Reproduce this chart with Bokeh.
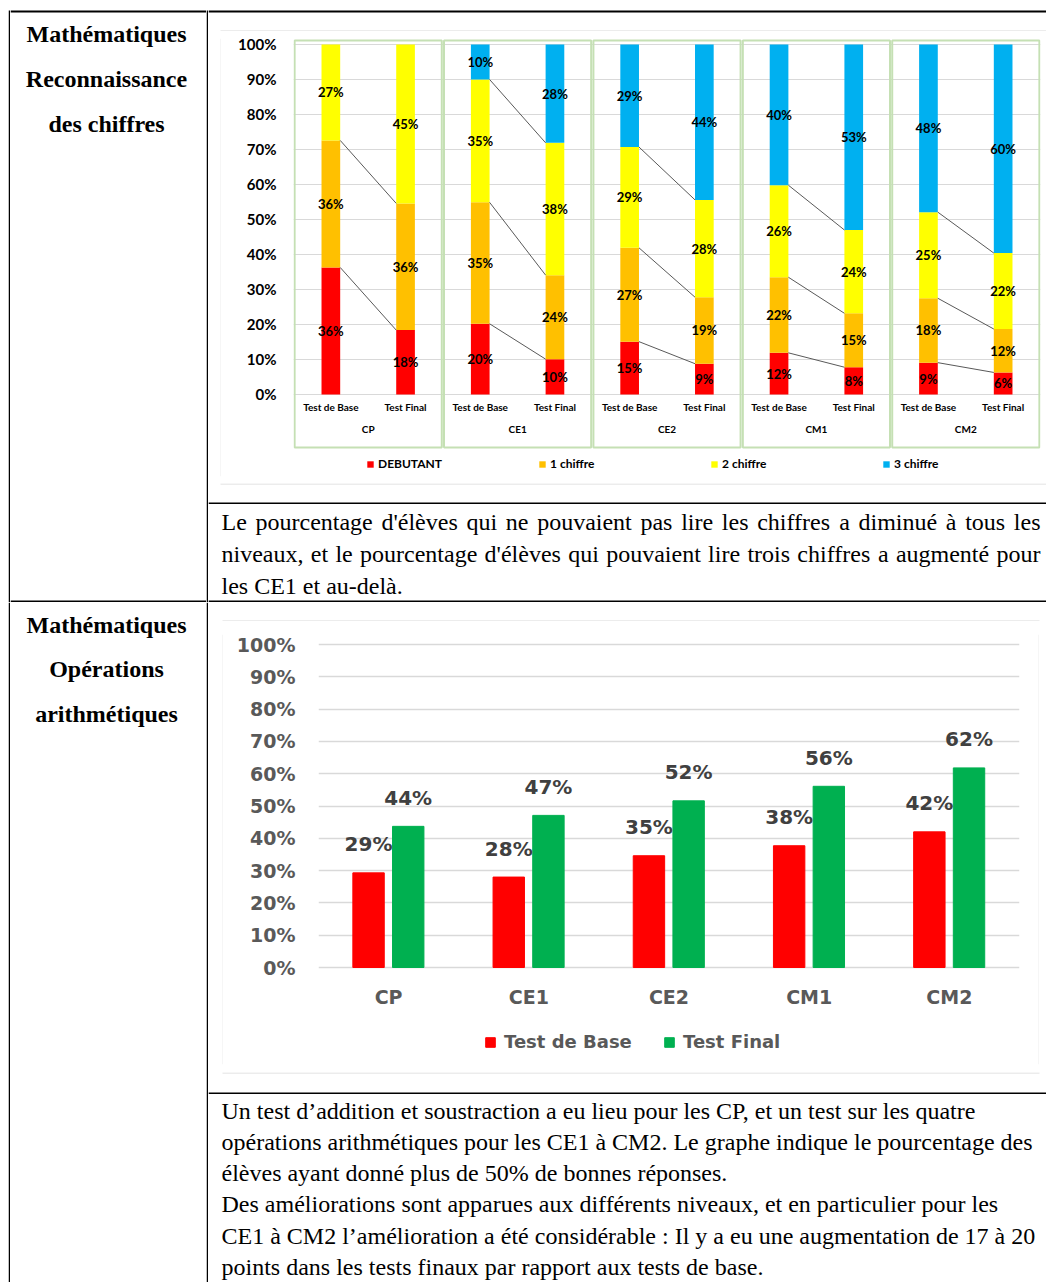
from bokeh.plotting import figure
from bokeh.models import (ColumnDataSource, FactorRange, Range1d, FixedTicker,
                          PrintfTickFormatter, Legend, LegendItem)
from bokeh.layouts import row, column
from bokeh.transform import dodge
from bokeh.core.properties import value
from bokeh.embed import file_html
from bokeh.resources import INLINE

# ---------------- data ----------------
levels = ["CP", "CE1", "CE2", "CM1", "CM2"]
tests = ["Test de Base", "Test Final"]

# chart 1 : Reconnaissance des chiffres (stacked %, base/final per level)
series1 = ["DEBUTANT", "1 chiffre", "2 chiffre", "3 chiffre"]
debutant = [36.3, 18.4, 20.2, 10.1, 15.1, 8.8, 11.9, 7.8, 9.1, 6.3]
un_chiffre = [36.3, 36.2, 34.7, 24.0, 26.8, 19.0, 21.6, 15.4, 18.4, 12.4]
deux_chiffre = [27.4, 45.4, 35.1, 37.8, 28.8, 27.8, 26.3, 23.8, 24.6, 21.7]
trois_chiffre = [0.0, 0.0, 10.0, 28.1, 29.3, 44.4, 40.2, 53.0, 47.9, 59.6]
colors1 = ["#FF0000", "#FFC000", "#FFFF00", "#00B0F0"]

# chart 2 : Opérations arithmétiques
series2 = ["Test de Base", "Test Final"]
base2 = [29.3, 28.0, 34.6, 37.7, 42.0]
final2 = [43.7, 47.1, 51.6, 56.1, 61.8]
colors2 = ["#FF0000", "#00B050"]

pct_ticks = [0, 10, 20, 30, 40, 50, 60, 70, 80, 90, 100]

title1 = ["Mathématiques", "Reconnaissance", "des chiffres"]
title2 = ["Mathématiques", "Opérations", "arithmétiques"]
text1 = [
    "Le pourcentage d'élèves qui ne pouvaient pas lire les chiffres a diminué à tous les",
    "niveaux, et le pourcentage d'élèves qui pouvaient lire trois chiffres a augmenté pour",
    "les CE1 et au-delà.",
]
text1_justified = [True, True, False]
text2 = [
    "Un test d’addition et soustraction a eu lieu pour les CP, et un test sur les quatre",
    "opérations arithmétiques pour les CE1 à CM2. Le graphe indique le pourcentage des",
    "élèves ayant donné plus de 50% de bonnes réponses.",
    "Des améliorations sont apparues aux différents niveaux, et en particulier pour les",
    "CE1 à CM2 l’amélioration a été considérable : Il y a eu une augmentation de 17 à 20",
    "points dans les tests finaux par rapport aux tests de base.",
]

SERIF = "Liberation Serif"
BLACK = "#000000"
GREY = "#D9D9D9"

# advance widths (1/1000 em) of Liberation Serif, used only to justify text lines
_TW = {" ": 250, ",": 250, ".": 250, "'": 180, "-": 333,
       "a": 444, "b": 500, "c": 444, "d": 500, "e": 444, "f": 333, "g": 500, "h": 500,
       "i": 278, "j": 278, "k": 500, "l": 278, "m": 778, "n": 500, "o": 500, "p": 500,
       "q": 500, "r": 333, "s": 389, "t": 278, "u": 500, "v": 500, "w": 722, "x": 500,
       "y": 500, "z": 444, "é": 444, "è": 444, "à": 444, "L": 611, "C": 667, "E": 611}


def text_width(s, size):
    return sum(_TW.get(ch, 500) for ch in s) * size / 1000.0


# ---------------- helpers ----------------
def blank(w, h, bars=(), color="#ffffff"):
    """Plain cell; 'bars' are border strips (left, right, top, bottom, colour) in px."""
    f = figure(width=w, height=h, min_border=0, toolbar_location=None,
               output_backend="svg", x_axis_type=None, y_axis_type=None,
               outline_line_color=None, background_fill_color=color,
               border_fill_color=color, x_range=Range1d(0, w),
               y_range=Range1d(h, 0))
    for (l, r, t, b, c) in bars:
        f.quad(left=[l], right=[r], top=[t], bottom=[b], fill_color=c, line_color=None)
    return f


def text_cell(w, h, lines, x, y0, dy, size_px, bold=False, align="left", bars=(),
              justify=None, x_end=None):
    f = blank(w, h, bars)
    xs, ys, ts = [], [], []
    for i, line in enumerate(lines):
        y = y0 + i * dy
        if justify is not None and justify[i]:
            words = line.split(" ")
            widths = [text_width(wd, size_px) for wd in words]
            gap = (x_end - x - sum(widths)) / (len(words) - 1)
            cx = x
            for wd, ww in zip(words, widths):
                xs.append(cx); ys.append(y); ts.append(wd)
                cx += ww + gap
        else:
            xs.append(x); ys.append(y); ts.append(line)
    f.text(x=xs, y=ys, text=ts, text_font=value(SERIF),
           text_font_size=f"{size_px}px", text_font_style="bold" if bold else "normal",
           text_align=align, text_baseline="alphabetic", text_color=BLACK)
    return f


# ---------------- chart 1 ----------------
x1 = [(g, t) for g in levels for t in tests]
keys1 = ["debutant", "un", "deux", "trois"]
src1 = ColumnDataSource(dict(x=x1, debutant=debutant, un=un_chiffre,
                             deux=deux_chiffre, trois=trois_chiffre))

p1 = figure(width=825, height=452,
            x_range=FactorRange(*x1, factor_padding=0, group_padding=0, range_padding=0),
            y_range=Range1d(-23.43, 101.71),
            output_backend="svg", toolbar_location=None,
            min_border_left=72, min_border_right=6, min_border_top=7, min_border_bottom=7,
            outline_line_color=None, background_fill_color="white", border_fill_color="white")

# group frames (green)
p1.rect(x=levels, y=[43.0] * len(levels), width=1.97, height=116.28,
        fill_color=None, line_color="#C5E0B4", line_width=2)

rs1 = p1.vbar_stack(keys1, x="x", width=0.25, fill_color=colors1, line_color=None,
                    source=src1)

# series lines between base and final
xb, xf, yb, yf = [], [], [], []
for gi, g in enumerate(levels):
    b, fn = 2 * gi, 2 * gi + 1
    cb = cf = 0.0
    for arr in (debutant, un_chiffre, deux_chiffre):
        cb += arr[b]
        cf += arr[fn]
        if cb < 99.5 and cf < 99.5:
            xb.append((g, tests[0])); xf.append((g, tests[1]))
            yb.append(cb); yf.append(cf)
p1.segment(x0=dodge("xb", 0.125, range=p1.x_range), y0="yb",
           x1=dodge("xf", -0.125, range=p1.x_range), y1="yf",
           source=ColumnDataSource(dict(xb=xb, xf=xf, yb=yb, yf=yf)),
           line_color="#595959", line_width=1)

# data labels
lx, ly, lt = [], [], []
for i, xx in enumerate(x1):
    cum = 0.0
    for arr in (debutant, un_chiffre, deux_chiffre, trois_chiffre):
        v = arr[i]
        if v > 0.5:
            lx.append(xx); ly.append(cum + v / 2); lt.append(f"{round(v)}%")
        cum += v
p1.text(x="x", y="y", text="t", source=ColumnDataSource(dict(x=lx, y=ly, t=lt)),
        text_font=value("Lato"), text_font_style="bold", text_font_size="13px",
        text_align="center", text_baseline="middle", text_color=BLACK)

p1.xgrid.visible = False
p1.ygrid.ticker = FixedTicker(ticks=pct_ticks)
p1.ygrid.grid_line_color = GREY
p1.yaxis.ticker = FixedTicker(ticks=pct_ticks)
p1.yaxis.formatter = PrintfTickFormatter(format="%d%%")
p1.yaxis.axis_line_color = None
p1.yaxis.major_tick_line_color = None
p1.yaxis.minor_tick_line_color = None
p1.yaxis.major_tick_out = 0
p1.yaxis.major_tick_in = 0
p1.yaxis.minor_tick_out = 0
p1.yaxis.major_label_standoff = 17
p1.yaxis.major_label_text_font = "Lato"
p1.yaxis.major_label_text_font_style = "bold"
p1.yaxis.major_label_text_font_size = "15px"
p1.yaxis.major_label_text_color = BLACK

p1.xaxis.fixed_location = 0
p1.xaxis.axis_line_color = None
p1.xaxis.major_tick_line_color = None
p1.xaxis.minor_tick_line_color = None
p1.xaxis.major_tick_out = 0
p1.xaxis.major_tick_in = 0
p1.xaxis.separator_line_color = None
p1.xaxis.major_label_standoff = 7
p1.xaxis.major_label_text_font = "Lato"
p1.xaxis.major_label_text_font_style = "bold"
p1.xaxis.major_label_text_font_size = "10px"
p1.xaxis.major_label_text_line_height = 0.9
p1.xaxis.major_label_text_color = BLACK
p1.xaxis.group_text_font = "Lato"
p1.xaxis.group_text_font_style = "bold"
p1.xaxis.group_text_font_size = "10px"
p1.xaxis.group_text_color = BLACK

leg1 = Legend(items=[LegendItem(label=s, renderers=[r]) for s, r in zip(series1, rs1)],
              orientation="horizontal", location=(73, 5), padding=0, margin=0,
              spacing=10, glyph_width=8, glyph_height=8, label_width=150,
              label_height=8, label_standoff=4, label_text_font="Lato",
              label_text_font_style="bold", label_text_font_size="12px",
              label_text_color=BLACK, border_line_color=None,
              background_fill_alpha=0)
p1.add_layout(leg1)

# ---------------- chart 2 ----------------
src2 = ColumnDataSource(dict(
    level=levels, base=base2, final=final2,
    base_y=[v + 8.8 for v in base2], final_y=[v + 8.8 for v in final2],
    base_lbl=[f"{round(v)}%" for v in base2], final_lbl=[f"{round(v)}%" for v in final2]))

p2 = figure(width=815, height=451,
            x_range=FactorRange(*levels, range_padding=0, factor_padding=0),
            y_range=Range1d(-30.03, 103.10),
            output_backend="svg", toolbar_location=None,
            min_border_left=95, min_border_right=19, min_border_top=13, min_border_bottom=8,
            outline_line_color=None, background_fill_color="white", border_fill_color="white")

rb = p2.vbar(x=dodge("level", -0.143, range=p2.x_range), top="base", width=0.224,
             color=colors2[0], source=src2)
rf = p2.vbar(x=dodge("level", 0.14, range=p2.x_range), top="final", width=0.224,
             color=colors2[1], source=src2)
for xo, ycol, tcol in ((-0.143, "base_y", "base_lbl"), (0.14, "final_y", "final_lbl")):
    p2.text(x=dodge("level", xo, range=p2.x_range), y=ycol, text=tcol, source=src2,
            text_font=value("DejaVu Sans"), text_font_style="bold", text_font_size="20px",
            text_align="center", text_baseline="middle", text_color="#404040")

p2.xgrid.visible = False
p2.ygrid.ticker = FixedTicker(ticks=pct_ticks)
p2.ygrid.grid_line_color = GREY
p2.ygrid.grid_line_width = 1.5
p2.yaxis.ticker = FixedTicker(ticks=pct_ticks)
p2.yaxis.formatter = PrintfTickFormatter(format="%d%%")
p2.yaxis.axis_line_color = None
p2.yaxis.major_tick_line_color = None
p2.yaxis.minor_tick_line_color = None
p2.yaxis.major_tick_out = 0
p2.yaxis.major_tick_in = 0
p2.yaxis.minor_tick_out = 0
p2.yaxis.major_label_standoff = 23
p2.yaxis.major_label_text_font = "DejaVu Sans"
p2.yaxis.major_label_text_font_style = "bold"
p2.yaxis.major_label_text_font_size = "19px"
p2.yaxis.major_label_text_color = "#595959"

p2.xaxis.fixed_location = 0
p2.xaxis.axis_line_color = None
p2.xaxis.major_tick_line_color = None
p2.xaxis.minor_tick_line_color = None
p2.xaxis.major_tick_out = 0
p2.xaxis.major_tick_in = 0
p2.xaxis.major_label_standoff = 18
p2.xaxis.major_label_text_font = "DejaVu Sans"
p2.xaxis.major_label_text_font_style = "bold"
p2.xaxis.major_label_text_font_size = "19px"
p2.xaxis.major_label_text_color = "#595959"

leg2 = Legend(items=[LegendItem(label=series2[0], renderers=[rb]),
                     LegendItem(label=series2[1], renderers=[rf])],
              orientation="horizontal", location=(166, 12), padding=0, margin=0,
              spacing=19, glyph_width=12, glyph_height=12, label_width=140,
              label_height=12, label_standoff=8, label_text_font="DejaVu Sans",
              label_text_font_style="bold", label_text_font_size="18px",
              label_text_color="#595959", border_line_color=None,
              background_fill_alpha=0)
p2.add_layout(leg2)

# ---------------- page / table (pixel layout, page starts at 0,0) ----------------
RW = 838  # right column width

# row A : screen y 0..602
sA = blank(8, 602)
vA = blank(2, 602, [(0, 2, 10, 602, BLACK)])
leftA = text_cell(196, 602, title1, 96, 33.3, 45, 24, bold=True, align="center",
                  bars=[(0, 196, 10, 12, BLACK), (0, 196, 600, 602, BLACK)])
dA = blank(2, 602, [(0, 2, 10, 602, BLACK)])
topA = blank(RW, 31, [(0, RW, 10, 12, BLACK), (12, RW, 30, 31, GREY)])
midA = row(blank(12, 452), blank(1, 452, [(0, 1, 0, 452, GREY)]), p1)
botA = blank(RW, 21, [(12, RW, 0, 1, GREY), (0, RW, 19, 21, BLACK)])
para1 = text_cell(RW, 98, text1, 13, 17.3, 32, 24, bars=[(0, RW, 96, 98, BLACK)],
                  justify=text1_justified, x_end=832)
rightA = column(topA, midA, botA, para1)
rowA = row(sA, vA, leftA, dA, rightA)

# row B : screen y 602..1282
sB = blank(8, 680)
vB = blank(2, 680, [(0, 2, 0, 680, BLACK)])
leftB = text_cell(196, 680, title2, 96, 22.3, 44.5, 24, bold=True, align="center")
dB = blank(2, 680, [(0, 2, 0, 680, BLACK)])
topB = blank(RW, 19, [(14, 831, 18, 19, GREY)])
midB = row(blank(14, 451), blank(1, 451, [(0, 1, 0, 451, GREY)]), p2,
           blank(1, 451, [(0, 1, 0, 451, GREY)]), blank(7, 451))
botB = blank(RW, 22, [(14, 831, 0, 1, GREY), (0, RW, 20, 22, BLACK)])
para2 = text_cell(RW, 188, text2, 13, 16.0, 31.3, 24)
rightB = column(topB, midB, botB, para2)
rowB = row(sB, vB, leftB, dB, rightB)

page = column(rowA, rowB)

open("out.html", "w").write(file_html(page, INLINE))
